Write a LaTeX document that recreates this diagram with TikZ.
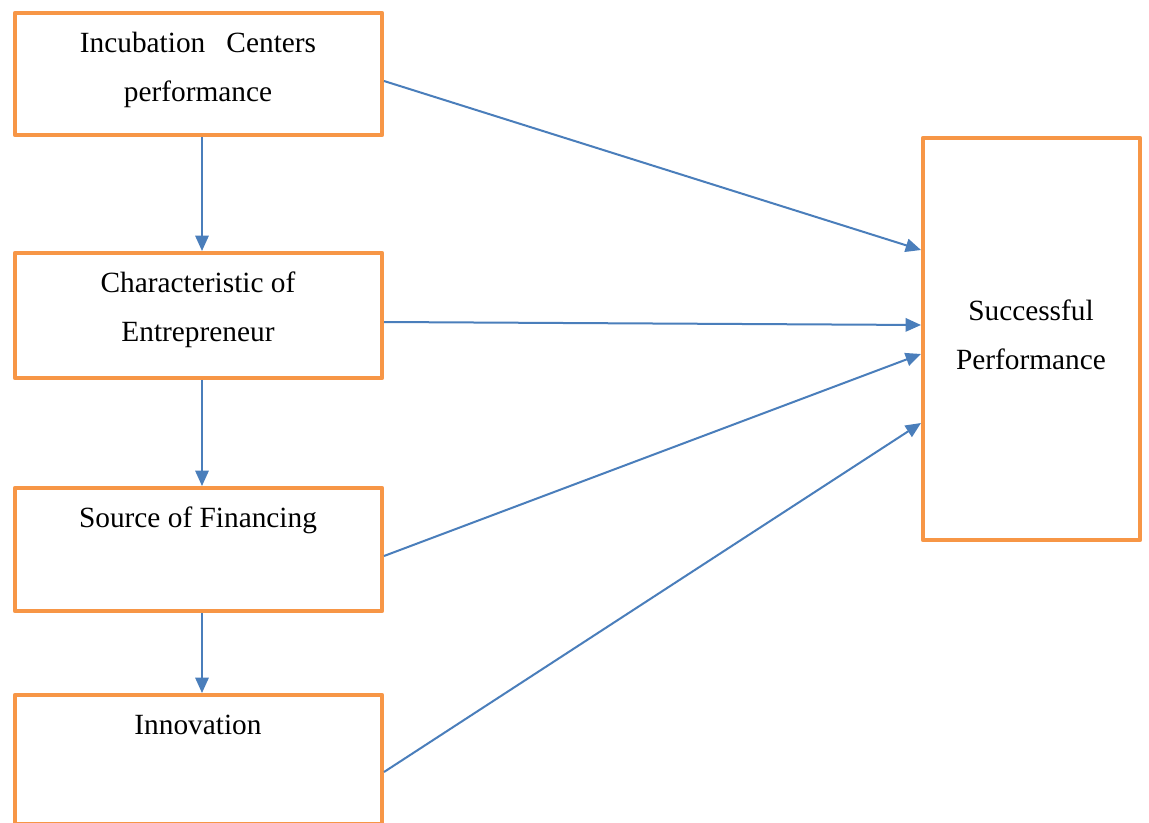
\documentclass[tikz,border=0pt]{standalone}
\usepackage{fontspec}
\setmainfont{Liberation Serif}
\usetikzlibrary{arrows.meta,fit}
\definecolor{boxorange}{RGB}{247,150,70}
\definecolor{arrowblue}{RGB}{74,126,187}
\begin{document}
\begin{tikzpicture}[x=0.75pt,y=-0.75pt,
  box/.style={draw=boxorange,line width=3.4pt,line join=round,inner sep=0pt,rectangle},
  lbl/.style={anchor=base,inner sep=0pt,font=\fontsize{22}{26}\selectfont},
  link/.style={draw=arrowblue,line width=1.5pt,-{Triangle[length=11.5pt,width=10pt]}}]
\useasboundingbox (0,0) rectangle (1149,823);
\fill[white] (0,0) rectangle (1149,823);
% boxes
\node[box,fit={(15,13) (382,135)}] (b1) {};
\node[box,fit={(15,253) (382,378)}] (b2) {};
\node[box,fit={(15,488) (382,611)}] (b3) {};
\node[box,fit={(15,695) (382,824)}] (b4) {};
\node[box,fit={(923,138) (1140,540)}] (r) {};
% labels
\node[lbl] (t1a) at (198,53) {Incubation\hspace{0.72em}Centers};
\node[lbl] (t1b) at (198,102) {performance};
\node[lbl] (t2a) at (198,293) {Characteristic of};
\node[lbl] (t2b) at (198,342) {Entrepreneur};
\node[lbl] (t3) at (198,527) {Source of Financing};
\node[lbl] (t4) at (198,734) {Innovation};
\node[lbl] (tra) at (1031,321) {Successful};
\node[lbl] (trb) at (1031,370) {Performance};
% connector endpoints
\coordinate (v1s) at (202,137);
\coordinate (v1e) at (202,251);
\coordinate (v2s) at (202,380);
\coordinate (v2e) at (202,486);
\coordinate (v3s) at (202,613);
\coordinate (v3e) at (202,693);
\coordinate (d1s) at (384,81);
\coordinate (d1e) at (921,250);
\coordinate (d2s) at (384,322);
\coordinate (d2e) at (921,325);
\coordinate (d3s) at (384,556);
\coordinate (d3e) at (921,354);
\coordinate (d4s) at (384,772);
\coordinate (d4e) at (921,423);
\draw[link] (v1s) -- (v1e);
\draw[link] (v2s) -- (v2e);
\draw[link] (v3s) -- (v3e);
\draw[link] (d1s) -- (d1e);
\draw[link] (d2s) -- (d2e);
\draw[link] (d3s) -- (d3e);
\draw[link] (d4s) -- (d4e);
\end{tikzpicture}
\end{document}
